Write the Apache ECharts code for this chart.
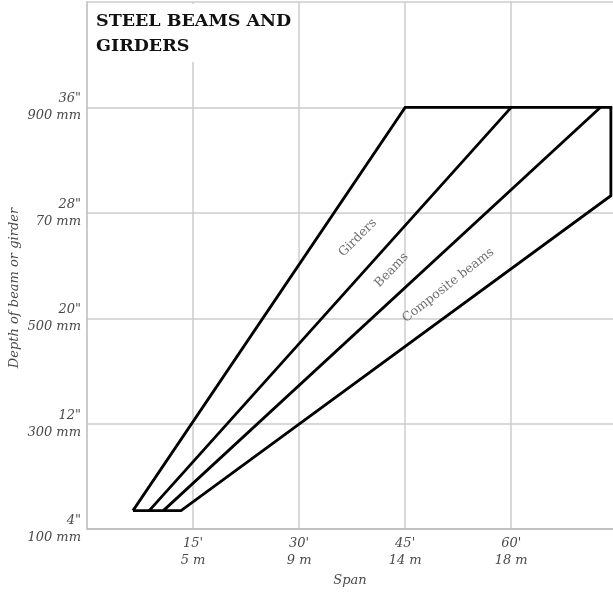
<!DOCTYPE html>
<html><head><meta charset="utf-8">
<script src="https://cdn.jsdelivr.net/npm/echarts@6/dist/echarts.min.js"></script>
<style>html,body{margin:0;padding:0;background:#fff}#c{width:613px;height:592px}</style>
</head><body><div id="c"></div>
<script>
const xTicks = [15, 30, 45, 60];
const xTickLabels = ["15'\n5 m", "30'\n9 m", "45'\n14 m", "60'\n18 m"];
const yTicks = [4, 12, 20, 28, 36];
const yTickLabels = ['4"\n100 mm', '12"\n300 mm', '20"\n500 mm', '28"\n70 mm', '36"\n900 mm'];
const outline = [[6.5, 5.4], [45, 36], [74.1, 36], [74.1, 29.3], [13.3, 5.4], [6.5, 5.4]];
const beamsLine = [[8.8, 5.4], [60, 36]];
const compositeLine = [[10.8, 5.4], [72.6, 36]];
const lineLabels = ['Girders', 'Beams', 'Composite beams'];
const lineLabelPos = [[38.3, 26.1], [43.1, 23.65], [51.1, 22.5]];
const lineLabelAngle = [45, 46, 38];

const font = 'DejaVu Serif';
const grey = '#4a4a4a';
const chart = echarts.init(document.getElementById('c'), null, {renderer: 'canvas'});
const lineStyle = {color: '#000', width: 2.8, join: 'miter'};
chart.setOption({
  animation: false,
  title: {
    text: 'STEEL BEAMS AND\nGIRDERS', left: 93, top: 4,
    backgroundColor: '#fff', padding: [5, 2, 3, 3],
    textStyle: {fontFamily: font, fontWeight: 'bold', fontSize: 17.5, color: '#111', lineHeight: 25}
  },
  grid: {left: 87, right: 0, top: 2, bottom: 62, containLabel: false},
  xAxis: {
    type: 'value', min: 0, max: 74.4,
    name: 'Span', nameLocation: 'middle', nameGap: 41,
    nameTextStyle: {fontFamily: font, fontStyle: 'italic', fontSize: 13, color: grey},
    axisLine: {show: true, lineStyle: {color: '#bbb', width: 1.5}},
    axisTick: {show: false, customValues: xTicks},
    axisLabel: {customValues: xTicks, fontFamily: font, fontStyle: 'italic', fontSize: 13, color: grey, lineHeight: 17, margin: 6,
      formatter: v => xTickLabels[xTicks.indexOf(v)] || ''},
    splitLine: {show: true, lineStyle: {color: '#ccc', width: 1.5}}
  },
  yAxis: {
    type: 'value', min: 4, max: 44,
    axisLine: {show: true, lineStyle: {color: '#bbb', width: 1.5}},
    axisTick: {show: false, customValues: yTicks.concat([44])},
    axisLabel: {customValues: yTicks, fontFamily: font, fontStyle: 'italic', fontSize: 13, color: grey, lineHeight: 17, margin: 6, align: 'right',
      formatter: v => yTickLabels[yTicks.indexOf(v)] || ''},
    splitLine: {show: true, lineStyle: {color: '#ccc', width: 1.5}}
  },
  graphic: [{
    type: 'text', x: 15, y: 288, rotation: Math.PI / 2,
    style: {text: 'Depth of beam or girder', fontFamily: font, fontStyle: 'italic', fontSize: 13, fill: grey, align: 'center', verticalAlign: 'middle'}
  }],
  series: [
    {type: 'line', data: outline, symbol: 'none', lineStyle: lineStyle, z: 3},
    {type: 'line', data: beamsLine, symbol: 'none', lineStyle: lineStyle, z: 3},
    {type: 'line', data: compositeLine, symbol: 'none', lineStyle: lineStyle, z: 3},
    {type: 'scatter', symbolSize: 0, z: 4,
      data: lineLabelPos.map((p, i) => ({value: p, name: lineLabels[i],
        label: {show: true, position: 'inside', rotate: lineLabelAngle[i], formatter: lineLabels[i],
          fontFamily: font, fontSize: 12.5, color: grey}}))}
  ]
});
</script></body></html>
